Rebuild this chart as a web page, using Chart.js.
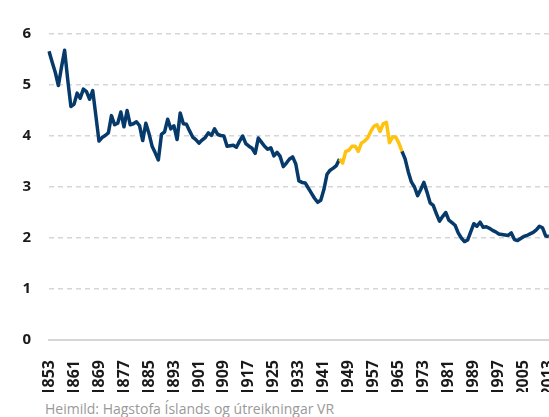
<!DOCTYPE html>
<html>
<head>
<meta charset="utf-8">
<script src="https://cdn.jsdelivr.net/npm/chart.js@4/dist/chart.umd.min.js"></script>
<style>
    body { margin: 0; background: #fff; overflow: hidden; width: 549px; height: 417px; }
    #wrap { position: absolute; left: 0; top: 0; width: 580px; height: 392px; }
    #source { position: absolute; left: 45px; top: 399px; font: 14px "Open Sans", sans-serif; color: #999; white-space: nowrap; }
</style>
</head>
<body>
<div id="wrap"><canvas id="chart"></canvas></div>
<div id="source">Heimild: Hagstofa Íslands og útreikningar VR</div>
<script>
// years 1853 - 2013
const firstYear = 1853;
const values = [
    5.66, 5.45, 5.25, 4.99, 5.35, 5.68, 5.10, 4.58, 4.62, 4.84,  // 1853-1862
    4.74, 4.92, 4.87, 4.72, 4.89, 4.40, 3.90, 3.97, 4.01, 4.06,  // 1863-1872
    4.40, 4.22, 4.25, 4.47, 4.18, 4.50, 4.22, 4.24, 4.28, 4.20,  // 1873-1882
    3.91, 4.25, 4.05, 3.80, 3.67, 3.53, 4.03, 4.08, 4.33, 4.14,  // 1883-1892
    4.20, 3.93, 4.45, 4.24, 4.23, 4.10, 3.98, 3.93, 3.86, 3.92,  // 1893-1902
    3.97, 4.06, 4.01, 4.14, 4.03, 4.01, 4.00, 3.80, 3.81, 3.82,  // 1903-1912
    3.78, 3.90, 4.00, 3.85, 3.80, 3.76, 3.66, 3.96, 3.88, 3.80,  // 1913-1922
    3.74, 3.77, 3.61, 3.68, 3.60, 3.40, 3.47, 3.55, 3.59, 3.45,  // 1923-1932
    3.12, 3.09, 3.08, 2.98, 2.88, 2.78, 2.70, 2.74, 2.95, 3.25,  // 1933-1942
    3.33, 3.37, 3.42, 3.55, 3.47, 3.70, 3.72, 3.80, 3.80, 3.70,  // 1943-1952
    3.86, 3.90, 3.96, 4.09, 4.19, 4.22, 4.09, 4.24, 4.27, 3.87,  // 1953-1962
    3.98, 3.98, 3.86, 3.70, 3.55, 3.30, 3.10, 3.00, 2.83, 2.95,  // 1963-1972
    3.09, 2.90, 2.69, 2.64, 2.48, 2.33, 2.42, 2.50, 2.35, 2.30,  // 1973-1982
    2.25, 2.10, 2.00, 1.93, 1.96, 2.12, 2.28, 2.23, 2.31, 2.21,  // 1983-1992
    2.22, 2.19, 2.15, 2.12, 2.08, 2.07, 2.06, 2.05, 2.10, 1.97,  // 1993-2002
    1.95, 1.99, 2.03, 2.05, 2.08, 2.11, 2.16, 2.23, 2.20, 2.04,  // 2003-2012
    2.03                                                          // 2013
];
const years = values.map((v, i) => String(firstYear + i));

// baby boom years drawn in yellow
const highlightFrom = 1946;
const highlightTo = 1966;

const navy = '#063a6b';
const gold = '#ffc20e';

function segColor(ctx) {
    const y0 = firstYear + ctx.p0DataIndex;
    const y1 = firstYear + ctx.p1DataIndex;
    return (y0 >= highlightFrom && y1 <= highlightTo) ? gold : navy;
}

new Chart(document.getElementById('chart'), {
    type: 'line',
    data: {
        labels: years,
        datasets: [{
            data: values,
            borderColor: navy,
            borderWidth: 3.5,
            borderJoinStyle: 'round',
            pointRadius: 0,
            tension: 0,
            segment: { borderColor: segColor }
        }]
    },
    options: {
        responsive: true,
        maintainAspectRatio: false,
        animation: false,
        layout: { padding: { top: 34, right: 22, left: 0, bottom: 0 } },
        plugins: {
            legend: { display: false },
            tooltip: { enabled: false }
        },
        scales: {
            x: {
                grid: { display: false },
                border: { display: true, color: '#d6d6d6', width: 2 },
                ticks: {
                    autoSkip: false,
                    minRotation: 90,
                    maxRotation: 90,
                    padding: 12,
                    color: '#1a1a1a',
                    font: { family: 'Open Sans', size: 16, weight: 'bold' },
                    callback: (v, i) => (i % 8 === 0 ? years[i] : null)
                },
                afterFit: s => { s.height = 52; }
            },
            y: {
                min: 0,
                max: 6,
                ticks: {
                    stepSize: 1,
                    padding: 18,
                    color: '#1a1a1a',
                    font: { family: 'Open Sans', size: 15, weight: 'bold' }
                },
                grid: { color: '#d6d6d6', lineWidth: 1.5, drawTicks: false },
                border: { display: false, dash: [5, 4] },
                afterFit: s => { s.width = 49; }
            }
        }
    }
});
</script>
</body>
</html>
